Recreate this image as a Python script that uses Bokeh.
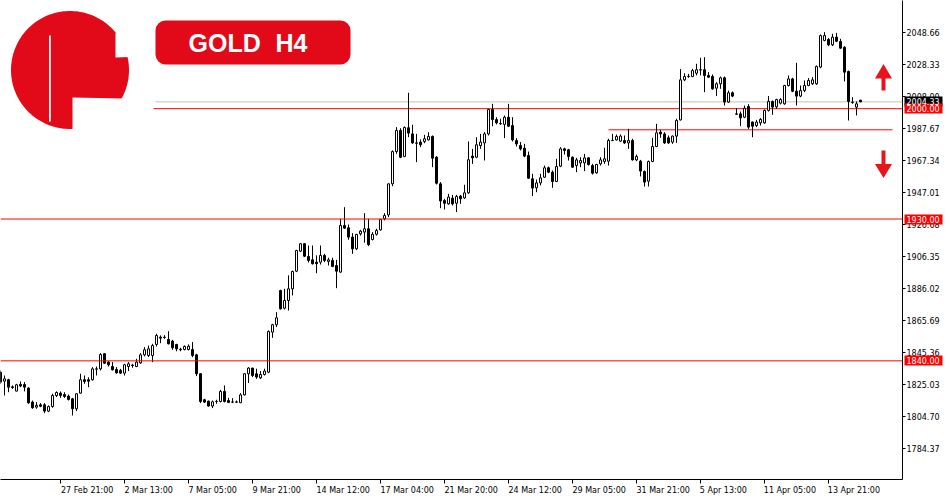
import numpy as np
from bokeh.plotting import figure
from bokeh.models import (Span, Label, BoxAnnotation, FixedTicker, PrintfTickFormatter,
                          Range1d, ColumnDataSource, AllLabels, LinearAxis)
from bokeh.embed import file_html
from bokeh.resources import INLINE

# ---------------- data ----------------
opens = [1832.8, 1827.1, 1828.0, 1823.5, 1820.8, 1825.0, 1825.0, 1822.7, 1813.8, 1810.6,
         1812.1, 1812.1, 1808.1, 1811.0, 1818.0, 1819.5, 1818.6, 1817.6, 1815.9, 1809.6,
         1819.5, 1828.0, 1828.0, 1828.0, 1834.7, 1834.9, 1844.5, 1839.2, 1836.4, 1834.5,
         1833.9, 1832.2, 1836.4, 1837.0, 1836.4, 1838.7, 1843.8, 1843.4, 1843.4, 1850.4,
         1855.0, 1855.0, 1853.6, 1852.5, 1850.4, 1847.4, 1847.2, 1847.2, 1847.2, 1843.8,
         1831.8, 1815.3, 1814.4, 1811.3, 1814.2, 1814.2, 1820.6, 1814.8, 1813.9, 1813.8,
         1813.4, 1818.4, 1831.8, 1835.4, 1831.8, 1829.2, 1831.3, 1832.8, 1858.2, 1862.9,
         1884.6, 1873.4, 1878.3, 1885.7, 1896.9, 1909.6, 1914.3, 1906.2, 1904.1, 1902.6,
         1902.6, 1906.9, 1903.1, 1903.7, 1900.5, 1896.3, 1925.9, 1924.4, 1918.5, 1911.1,
         1920.6, 1921.7, 1923.8, 1917.0, 1920.3, 1923.1, 1930.1, 1932.6, 1952.3, 1972.8,
         1986.2, 1969.7, 1987.9, 1984.0, 1978.3, 1978.8, 1979.2, 1980.2, 1982.4, 1969.2,
         1952.3, 1941.7, 1939.6, 1943.2, 1940.0, 1944.5, 1943.4, 1946.6, 1969.9, 1969.2,
         1976.6, 1978.3, 1984.0, 1999.5, 1993.1, 1990.6, 1990.0, 1994.6, 1989.3, 1979.8,
         1976.6, 1974.9, 1970.3, 1955.5, 1949.8, 1952.9, 1956.5, 1962.5, 1959.7, 1953.8,
         1963.5, 1974.5, 1973.9, 1969.2, 1963.9, 1965.6, 1965.6, 1968.8, 1963.9, 1959.3,
         1965.0, 1966.5, 1966.7, 1979.8, 1980.2, 1979.4, 1979.8, 1978.3, 1979.8, 1967.5,
         1966.7, 1960.1, 1954.0, 1966.5, 1976.0, 1985.1, 1984.0, 1981.5, 1978.8, 1982.6,
         1992.9, 2018.3, 2020.4, 2020.4, 2022.5, 2024.7, 2024.7, 2021.1, 2020.4, 2013.0,
         2015.8, 2019.6, 2004.2, 2010.1, 1996.7, 1996.7, 1994.6, 2001.4, 1991.5, 1989.3,
         1991.0, 1991.0, 1998.9, 2004.6, 2001.2, 2003.5, 2003.1, 2014.7, 2018.9, 2011.1,
         2008.0, 2011.5, 2014.7, 2015.8, 2015.8, 2026.4, 2043.3, 2043.9, 2040.5, 2045.4,
         2042.6, 2039.0, 2023.6, 2004.2, 2001.0, 2005.4]
highs = [1833.9, 1830.7, 1828.6, 1824.4, 1825.4, 1826.9, 1826.5, 1823.3, 1814.8, 1813.8,
         1813.2, 1813.2, 1811.7, 1819.1, 1820.6, 1820.6, 1820.1, 1818.6, 1816.5, 1819.5,
         1831.8, 1830.7, 1829.6, 1836.0, 1836.4, 1844.9, 1844.9, 1839.8, 1839.2, 1836.0,
         1834.9, 1838.1, 1839.2, 1838.1, 1841.3, 1844.9, 1848.7, 1849.7, 1850.8, 1857.2,
         1856.1, 1856.3, 1858.8, 1853.3, 1850.8, 1848.3, 1849.8, 1850.4, 1851.9, 1844.5,
         1832.2, 1815.9, 1814.8, 1814.8, 1815.3, 1821.6, 1824.4, 1816.5, 1816.3, 1814.8,
         1819.5, 1832.2, 1836.0, 1835.6, 1835.0, 1833.5, 1835.0, 1859.3, 1863.5, 1870.9,
         1885.1, 1885.7, 1894.2, 1897.3, 1910.4, 1914.7, 1914.7, 1913.2, 1913.2, 1906.9,
         1913.2, 1907.9, 1905.4, 1905.4, 1904.1, 1930.1, 1937.5, 1926.5, 1921.0, 1920.6,
         1923.1, 1933.7, 1930.1, 1921.7, 1923.8, 1930.1, 1933.7, 1952.7, 1973.5, 1988.3,
         1987.6, 1988.7, 2010.1, 1989.8, 1984.0, 1980.5, 1983.4, 1985.1, 1983.0, 1969.9,
         1953.4, 1942.8, 1946.0, 1945.3, 1945.3, 1945.3, 1951.7, 1979.2, 1974.5, 1981.9,
         1984.0, 1985.1, 1999.9, 2003.1, 1994.6, 1993.6, 1995.7, 2003.1, 1994.6, 1981.3,
         1978.8, 1977.7, 1972.8, 1958.7, 1955.1, 1958.7, 1963.9, 1963.3, 1960.8, 1968.2,
         1975.6, 1975.2, 1974.5, 1969.7, 1968.8, 1969.2, 1971.3, 1969.2, 1965.0, 1965.0,
         1969.2, 1975.2, 1980.9, 1984.0, 1983.6, 1983.6, 1983.0, 1987.2, 1980.9, 1970.9,
         1967.5, 1960.8, 1967.1, 1981.5, 1990.4, 1986.6, 1985.1, 1983.0, 1983.0, 1993.6,
         2025.1, 2022.5, 2022.1, 2025.3, 2028.5, 2032.3, 2032.7, 2023.2, 2021.7, 2016.8,
         2020.4, 2020.4, 2011.5, 2010.9, 2000.3, 1998.2, 2002.0, 2002.9, 1991.9, 1992.9,
         1994.0, 1999.5, 2008.0, 2005.2, 2006.3, 2006.7, 2015.1, 2021.1, 2019.6, 2029.1,
         2014.7, 2017.9, 2019.4, 2020.0, 2027.4, 2047.1, 2048.6, 2044.8, 2047.5, 2048.1,
         2044.3, 2039.7, 2024.2, 2007.3, 2004.6, 2005.6]
lows = [1825.4, 1818.0, 1820.1, 1822.2, 1820.6, 1823.3, 1820.6, 1812.7, 1809.6, 1809.6,
        1810.6, 1806.8, 1807.4, 1810.2, 1817.0, 1816.5, 1816.5, 1814.8, 1805.3, 1808.1,
        1819.1, 1825.4, 1823.3, 1827.5, 1830.7, 1833.9, 1838.1, 1836.4, 1833.9, 1831.8,
        1831.8, 1830.7, 1833.5, 1835.6, 1836.0, 1838.1, 1842.8, 1842.4, 1839.2, 1849.1,
        1851.2, 1854.0, 1850.4, 1847.0, 1846.1, 1846.1, 1846.6, 1846.6, 1842.3, 1830.3,
        1813.2, 1813.2, 1811.0, 1810.0, 1812.7, 1813.6, 1813.6, 1813.2, 1813.2, 1813.2,
        1813.2, 1818.0, 1825.9, 1829.7, 1828.6, 1828.4, 1830.7, 1832.2, 1854.6, 1861.4,
        1872.6, 1872.6, 1871.9, 1881.5, 1896.3, 1909.0, 1905.8, 1902.4, 1901.1, 1895.6,
        1901.1, 1902.6, 1900.5, 1899.5, 1886.1, 1895.9, 1923.7, 1916.8, 1907.9, 1910.4,
        1919.5, 1915.0, 1912.8, 1916.4, 1919.5, 1922.7, 1929.1, 1931.2, 1950.8, 1971.4,
        1968.6, 1969.2, 1981.9, 1977.7, 1966.1, 1975.6, 1978.1, 1979.8, 1962.9, 1951.9,
        1936.9, 1936.0, 1939.0, 1938.6, 1934.4, 1939.6, 1942.8, 1946.0, 1965.0, 1968.6,
        1974.5, 1967.1, 1983.0, 1988.9, 1990.0, 1989.8, 1981.3, 1988.3, 1979.2, 1976.0,
        1973.5, 1969.2, 1955.5, 1944.5, 1947.0, 1951.3, 1956.1, 1959.1, 1949.8, 1953.4,
        1962.9, 1970.9, 1967.1, 1962.5, 1959.7, 1962.9, 1960.4, 1963.9, 1958.2, 1958.7,
        1963.9, 1965.0, 1963.9, 1979.4, 1979.8, 1978.8, 1977.7, 1974.5, 1967.1, 1966.7,
        1957.0, 1950.6, 1950.6, 1966.1, 1975.6, 1981.5, 1977.7, 1977.7, 1977.7, 1978.3,
        1992.5, 2017.5, 2019.6, 2020.0, 2021.1, 2021.1, 2010.5, 2019.6, 2012.0, 2008.0,
        2012.6, 2002.0, 2003.7, 2007.3, 1996.1, 1988.9, 1994.0, 1987.2, 1981.9, 1988.3,
        1989.3, 1990.4, 1998.2, 1996.1, 1999.9, 2002.7, 2002.5, 2014.1, 2010.5, 2002.0,
        2007.3, 2010.5, 2014.3, 2015.1, 2015.1, 2025.7, 2042.8, 2039.7, 2039.7, 2042.2,
        2038.0, 2017.3, 1992.5, 2003.1, 1995.7, 2004.3]
closes = [1826.5, 1828.6, 1823.3, 1823.1, 1824.8, 1824.0, 1823.3, 1813.4, 1810.2, 1811.7,
          1811.2, 1808.1, 1811.0, 1818.0, 1819.9, 1818.0, 1817.4, 1815.5, 1809.6, 1819.1,
          1828.0, 1826.9, 1827.1, 1834.9, 1834.9, 1844.0, 1838.5, 1837.5, 1834.3, 1832.4,
          1832.2, 1837.5, 1838.1, 1837.3, 1839.2, 1843.8, 1847.0, 1847.6, 1849.7, 1856.1,
          1854.4, 1854.8, 1850.8, 1848.3, 1847.6, 1847.0, 1849.1, 1849.3, 1843.4, 1831.8,
          1814.2, 1813.8, 1811.3, 1814.0, 1814.3, 1820.6, 1814.2, 1813.6, 1813.8, 1813.9,
          1818.4, 1831.8, 1835.4, 1830.7, 1829.7, 1831.3, 1833.5, 1858.6, 1862.9, 1867.3,
          1873.0, 1878.3, 1885.7, 1896.7, 1910.0, 1914.3, 1906.4, 1903.7, 1901.6, 1901.6,
          1906.9, 1903.7, 1904.1, 1899.9, 1896.9, 1925.9, 1924.2, 1918.5, 1911.1, 1920.2,
          1922.3, 1923.8, 1913.8, 1920.3, 1922.7, 1929.7, 1932.2, 1952.3, 1972.8, 1986.2,
          1969.2, 1988.1, 1984.5, 1978.3, 1978.1, 1977.1, 1980.9, 1982.4, 1968.6, 1952.7,
          1941.5, 1940.0, 1943.9, 1939.6, 1944.3, 1942.8, 1946.6, 1967.6, 1968.8, 1977.1,
          1978.8, 1984.0, 1999.5, 1993.1, 1991.0, 1990.4, 1994.6, 1988.9, 1980.2, 1977.7,
          1974.5, 1969.9, 1955.9, 1949.6, 1952.9, 1956.1, 1962.5, 1959.7, 1953.8, 1963.3,
          1974.5, 1973.5, 1969.7, 1962.9, 1967.5, 1967.1, 1968.8, 1964.6, 1959.1, 1964.6,
          1967.5, 1968.2, 1979.8, 1979.9, 1982.4, 1982.6, 1978.3, 1979.8, 1967.5, 1969.7,
          1960.4, 1953.4, 1966.5, 1976.0, 1984.7, 1984.0, 1978.3, 1978.3, 1982.6, 1992.5,
          2018.3, 2020.4, 2020.6, 2024.2, 2024.7, 2024.5, 2021.1, 2020.0, 2012.6, 2015.8,
          2019.6, 2004.2, 2010.1, 2008.0, 1996.5, 1994.2, 2000.3, 1988.3, 1988.9, 1991.5,
          1993.2, 1998.9, 2004.6, 2001.0, 2005.8, 2005.8, 2014.7, 2018.9, 2011.1, 2008.0,
          2011.5, 2014.7, 2017.9, 2018.3, 2026.8, 2046.4, 2046.4, 2040.5, 2045.4, 2042.8,
          2038.4, 2023.2, 2004.6, 2004.0, 2003.1, 2004.33]

# time-axis labels (bar index -> label)
time_tick_bars = [15, 31, 47, 63, 79, 95, 111, 127, 143, 159, 175, 191, 207]
time_tick_labels = ["27 Feb 21:00", "2 Mar 13:00", "7 Mar 05:00", "9 Mar 21:00",
                    "14 Mar 12:00", "17 Mar 04:00", "21 Mar 20:00", "24 Mar 12:00",
                    "29 Mar 05:00", "31 Mar 21:00", "5 Apr 13:00", "11 Apr 05:00",
                    "13 Apr 21:00"]
price_ticks = [2048.66, 2028.33, 2008.00, 1987.67, 1967.34, 1947.01, 1926.68,
               1906.35, 1886.02, 1865.69, 1845.36, 1825.03, 1804.70, 1784.37]

# horizontal levels
levels_full = [1930.00, 1840.00]
level_2000 = 2000.00
bid_price = 2004.33
trend_level = 1986.6
trend_bars = [152, 223]

# ---------------- figure ----------------
X0, X1 = 0.0, 225.5
Y0, Y1 = 1764.7, 2068.65

p = figure(width=950, height=500, x_range=Range1d(X0, X1), y_range=Range1d(Y0, Y1),
           y_axis_location="right", output_backend="svg", toolbar_location=None,
           min_border_left=0, min_border_top=0, min_border_right=48, min_border_bottom=21)
p.xgrid.visible = False
p.ygrid.visible = False
p.outline_line_color = None
p.background_fill_color = "white"
p.border_fill_color = "white"

AX_FONT = "DejaVu Sans"
AX_SIZE = 8

_W = {d: 0.636 for d in "0123456789"}
_W.update({" ": 0.318, ":": 0.337, "F": 0.575, "e": 0.615, "b": 0.635, "M": 0.863,
           "a": 0.613, "r": 0.411, "A": 0.684, "p": 0.635, ".": 0.318})

def text_w(s):
    return sum(_W.get(ch, 0.6) for ch in s) * AX_SIZE

def left_pad(s):
    return "\u00a0" * int(round(text_w(s) / (0.318 * AX_SIZE))) + s

xa = p.xaxis[0]
xa.ticker = FixedTicker(ticks=time_tick_bars)
xa.major_label_overrides = {b: left_pad(s) for b, s in zip(time_tick_bars, time_tick_labels)}
xa.major_label_policy = AllLabels()
xa.major_tick_out = 4
xa.major_tick_in = 0
xa.minor_tick_out = 0
xa.minor_tick_in = 0
xa.major_label_standoff = 2
xa.major_label_text_font = AX_FONT
xa.major_label_text_font_size = f"{AX_SIZE}px"
xa.major_label_text_color = "black"
xa.axis_line_color = "black"
xa.major_tick_line_color = "black"

TICK_OUT, STANDOFF = 3, 1
ya = p.yaxis[0]
ya.ticker = FixedTicker(ticks=price_ticks)
ya.formatter = PrintfTickFormatter(format="%.2f")
ya.major_tick_out = TICK_OUT
ya.major_tick_in = 0
ya.minor_tick_out = 0
ya.minor_tick_in = 0
ya.major_label_standoff = STANDOFF
ya.major_label_text_font = AX_FONT
ya.major_label_text_font_size = f"{AX_SIZE}px"
ya.major_label_text_color = "black"
ya.axis_line_color = "black"
ya.major_tick_line_color = "black"

# width of the main price-axis panel (the tag axes are stacked after it)
S_A = int(round(TICK_OUT + STANDOFF + max(text_w("%.2f" % v) for v in price_ticks))) + 3
TAG_L, TAG_R = 904, 942          # tag box span in canvas px
FRAME_R = 902

def tag_box_axis(values, colour):
    ax = LinearAxis(ticker=FixedTicker(ticks=values), formatter=PrintfTickFormatter(format="%.2f"))
    ax.major_label_overrides = {v: "" for v in values}
    ax.axis_line_color = None
    ax.major_tick_in = FRAME_R + S_A - TAG_L
    ax.major_tick_out = TAG_R - (FRAME_R + S_A)
    ax.minor_tick_out = 0
    ax.minor_tick_in = 0
    ax.major_tick_line_width = 10
    ax.major_tick_line_color = colour
    ax.major_tick_line_cap = "butt"
    ax.major_label_standoff = -(TAG_R - (FRAME_R + S_A))
    p.add_layout(ax, "right")

tag_box_axis([bid_price], "black")
tag_box_axis([level_2000] + levels_full, "#FF0000")

tag_text = LinearAxis(ticker=FixedTicker(ticks=[bid_price, level_2000] + levels_full),
                      formatter=PrintfTickFormatter(format="%.2f"))
tag_text.axis_line_color = None
tag_text.major_tick_in = 0
tag_text.major_tick_out = 0
tag_text.minor_tick_out = 0
tag_text.minor_tick_in = 0
tag_text.major_tick_line_color = None
tag_text.major_label_standoff = (TAG_L + 2) - (FRAME_R + S_A)
tag_text.major_label_text_font = AX_FONT
tag_text.major_label_text_font_size = f"{AX_SIZE}px"
tag_text.major_label_text_color = "white"
p.add_layout(tag_text, "right")

def PX(px):
    return px / 4.0

def PY(py):
    return 2068.65 - 0.6345 * py

# horizontal lines
for lv in levels_full:
    p.add_layout(Span(location=lv, dimension="width", line_color="#FF0000", line_width=1))
p.segment(x0=[PX(155)], x1=[X1 + 1], y0=[bid_price], y1=[bid_price], line_color="#C0C0C0", line_width=1)
p.segment(x0=[PX(153)], x1=[X1 + 1], y0=[level_2000], y1=[level_2000], line_color="#FF0000", line_width=1)
p.segment(x0=[trend_bars[0]], x1=[trend_bars[1]], y0=[trend_level], y1=[trend_level],
          line_color="#FF0000", line_width=1)

# candles
idx = np.arange(len(opens))
o = np.array(opens); c = np.array(closes); h = np.array(highs); l = np.array(lows)
src = ColumnDataSource(dict(x=idx, top=np.maximum(o, c), bottom=np.minimum(o, c), high=h, low=l,
                            fill=np.where(c >= o, "white", "black")))
p.segment(x0="x", x1="x", y0="low", y1="high", source=src, line_color="black", line_width=1)
p.vbar(x="x", width=0.5, top="top", bottom="bottom", source=src, fill_color="fill",
       line_color="black", line_width=1)

# arrows
RED = "#E8141B"
up_arrow = [(881, 90), (885, 90), (885, 78), (891.5, 78), (883, 63.5), (874.5, 78), (881, 78)]
dn_arrow = [(881, 150), (885, 150), (885, 163.5), (891.5, 163.5), (883, 177.5), (874.5, 163.5), (881, 163.5)]
for poly in (up_arrow, dn_arrow):
    p.patch([PX(a) for a, b in poly], [PY(b) for a, b in poly], fill_color=RED, line_color=None)

# logo
LOGO_RED = "#E20A18"
cx, cy, r = 69.5, 69.5, 59
th = np.linspace(0, 2 * np.pi, 181)
p.patch(PX(cx + r * np.cos(th)), PY(cy + r * np.sin(th)), fill_color=LOGO_RED, line_color=None)
gap = [(48.5, 35), (50.3, 35), (50.3, 121), (48.5, 121)]
ang1 = np.linspace(np.arcsin((33 - cy) / r), np.arcsin((57 - cy) / r), 20)
notch = [(115, 33)] + [(cx + (r + 2) * np.cos(a), cy + (r + 2) * np.sin(a)) for a in ang1] + [(115, 57)]
ang2 = np.linspace(np.arcsin((97 - cy) / r), np.arccos((72 - cx) / r), 30)
bottom = [(72, 97)] + [(cx + (r + 2) * np.cos(a), cy + (r + 2) * np.sin(a)) for a in ang2] + [(72, 131)]
for poly in (gap, notch, bottom):
    p.patch([PX(a) for a, b in poly], [PY(b) for a, b in poly], fill_color="white", line_color=None)

# title box
p.add_layout(BoxAnnotation(left=PX(155), right=PX(350), top=PY(20), bottom=PY(64),
                           fill_color=LOGO_RED, fill_alpha=1.0, line_color=None, border_radius=10))
for txt, xx in (("GOLD", 188), ("H4", 275)):
    p.add_layout(Label(x=PX(xx), y=PY(42.5), text=txt, text_color="white", text_font="Liberation Sans",
                       text_font_style="bold", text_font_size="25px", text_align="left",
                       text_baseline="middle"))

open("out.html", "w").write(file_html(p, INLINE))
